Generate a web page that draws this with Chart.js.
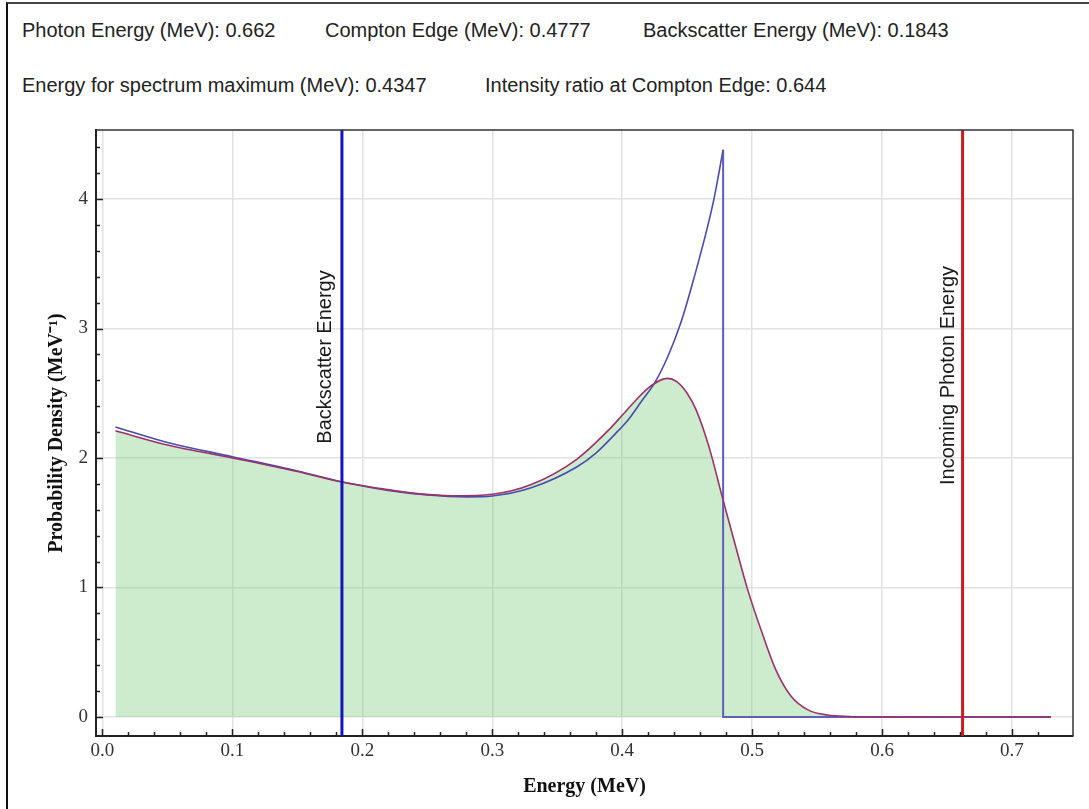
<!DOCTYPE html>
<html>
<head>
<meta charset="utf-8">
<title>Compton spectrum</title>
<script src="https://cdn.jsdelivr.net/npm/chart.js@4.4.1/dist/chart.umd.min.js"></script>
<style>
  html, body { margin: 0; padding: 0; background: #fff; }
  body { width: 1089px; height: 809px; position: relative; overflow: hidden;
         font-family: "Liberation Sans", Arial, sans-serif; }
  #panel { position: absolute; left: 6px; top: 2px; width: 1100px; height: 830px;
           border-left: 2px solid #111; border-top: 2px solid #444; }
  .info  { position: absolute; font-size: 20px; line-height: 20px; color: #222; white-space: nowrap; }
  #chart { position: absolute; left: 0; top: 0; }
</style>
</head>
<body>
<div id="panel"></div>
<div class="info" style="left:22px;top:20px">Photon Energy (MeV): 0.662</div>
<div class="info" style="left:325px;top:20px">Compton Edge (MeV): 0.4777</div>
<div class="info" style="left:643px;top:20px">Backscatter Energy (MeV): 0.1843</div>
<div class="info" style="left:22px;top:75px">Energy for spectrum maximum (MeV): 0.4347</div>
<div class="info" style="left:485px;top:75px">Intensity ratio at Compton Edge: 0.644</div>
<canvas id="chart" width="1089" height="809"></canvas>
<script>
"use strict";

const $ = id => document.getElementById(id);

// ── Axis ranges + ticks
const xMin = -0.005, xMax = 0.747;
const yMin = -0.147, yMax = 4.533;
const xTicks      = [0.0, 0.1, 0.2, 0.3, 0.4, 0.5, 0.6, 0.7];
const xTickLabels = ["0.0", "0.1", "0.2", "0.3", "0.4", "0.5", "0.6", "0.7"];
const yTicks      = [0, 1, 2, 3, 4];
const yTickLabels = ["0", "1", "2", "3", "4"];

// ── Marker energies (MeV)
const backscatterE = 0.1843;
const photonE      = 0.662;

// ── Klein-Nishina spectrum (blue)
const knX = [0.01, 0.05, 0.10, 0.15, 0.185, 0.22, 0.25, 0.28, 0.30, 0.33, 0.365, 0.38, 0.395, 0.405, 0.415, 0.425, 0.435, 0.445, 0.455, 0.47, 0.4777];
const knY = [2.24, 2.12, 2.01, 1.90, 1.815, 1.75, 1.715, 1.70, 1.707, 1.77, 1.93, 2.04, 2.19, 2.30, 2.44, 2.58, 2.78, 3.04, 3.38, 3.97, 4.38];

// ── Compton edge drop + zero tail (blue)
const edgeX = [0.4777, 0.4777, 0.73];
const edgeY = [4.38, 0, 0];

// ── Detector-smeared spectrum (red, filled)
const smX = [0.01, 0.05, 0.10, 0.15, 0.185, 0.21, 0.24, 0.27, 0.30, 0.33, 0.365, 0.39, 0.40, 0.41, 0.42, 0.4347, 0.442, 0.45, 0.457, 0.467, 0.477, 0.487, 0.497, 0.508, 0.518, 0.53, 0.543, 0.558, 0.575, 0.60, 0.65, 0.73];
const smY = [2.21, 2.10, 2.00, 1.895, 1.812, 1.77, 1.727, 1.708, 1.72, 1.795, 1.99, 2.22, 2.33, 2.44, 2.54, 2.615, 2.59, 2.50, 2.37, 2.08, 1.70, 1.33, 0.97, 0.64, 0.37, 0.16, 0.055, 0.015, 0.004, 0.001, 0, 0];

const pts = (xs, ys) => xs.map((x, i) => ({ x, y: ys[i] }));

// ── Fonts
const SERIF = "'Liberation Serif', 'Times New Roman', serif";
const SANS  = "'Liberation Sans', Arial, sans-serif";

// ── Frame, inward ticks, line labels
const framePlugin = {
  id: "frame",
  afterDraw(chart) {
    const { ctx, chartArea: a, scales: { x, y } } = chart;
    ctx.save();

    // top + right edge of frame
    ctx.strokeStyle = "#333";
    ctx.lineWidth = 1.5;
    ctx.beginPath();
    ctx.moveTo(a.left, a.top); ctx.lineTo(a.right, a.top); ctx.lineTo(a.right, a.bottom);
    ctx.stroke();

    // inward ticks
    ctx.strokeStyle = "#222";
    ctx.lineWidth = 1.5;
    ctx.beginPath();
    for (let i = 0; i <= 36; i++) {
      const px = Math.round(x.getPixelForValue(i * 0.02)) + 0.5;
      const len = i % 5 === 0 ? 7 : 4;
      ctx.moveTo(px, a.bottom); ctx.lineTo(px, a.bottom - len);
    }
    for (let i = 0; i <= 22; i++) {
      const py = Math.round(y.getPixelForValue(i * 0.2)) + 0.5;
      const len = i % 5 === 0 ? 7 : 4;
      ctx.moveTo(a.left, py); ctx.lineTo(a.left + len, py);
    }
    ctx.stroke();

    // rotated labels beside the marker lines
    ctx.fillStyle = "#1a1a1a";
    ctx.font = "20px " + SANS;
    ctx.textAlign = "center";
    ctx.textBaseline = "alphabetic";
    const vLabel = (text, px, py) => {
      ctx.save(); ctx.translate(px, py); ctx.rotate(-Math.PI / 2);
      ctx.fillText(text, 0, 0); ctx.restore();
    };
    vLabel("Backscatter Energy",     x.getPixelForValue(backscatterE) - 11, y.getPixelForValue(2.78));
    vLabel("Incoming Photon Energy", x.getPixelForValue(photonE) - 9,       y.getPixelForValue(2.637));

    ctx.restore();
  }
};

new Chart($("chart").getContext("2d"), {
  type: "line",
  data: { datasets: [
    { data: pts([backscatterE, backscatterE], [yMin, yMax]), borderColor: "rgb(20,20,190)", borderWidth: 3, order: 0 },
    { data: pts([photonE, photonE], [yMin, yMax]),           borderColor: "rgb(200,30,35)", borderWidth: 3, order: 0 },
    { data: pts(smX, smY), borderColor: "rgb(155,50,105)", borderWidth: 1.6, cubicInterpolationMode: "monotone",
      fill: "origin", backgroundColor: "rgba(130,205,130,0.4)", order: 1 },
    { data: pts(knX, knY),     borderColor: "rgb(75,75,175)", borderWidth: 1.6, cubicInterpolationMode: "monotone", order: 2 },
    { data: pts(edgeX, edgeY), borderColor: "rgb(95,95,185)", borderWidth: 2, order: 2 },
  ]},
  options: {
    responsive: false,
    animation: false,
    events: [],
    layout: { padding: { left: 0, top: 130, right: 16, bottom: 0 } },
    elements: { point: { radius: 0 }, line: { tension: 0 } },
    plugins: { legend: { display: false }, tooltip: { enabled: false }, filler: { drawTime: "beforeDatasetsDraw" } },
    scales: {
      x: {
        type: "linear", min: xMin, max: xMax,
        afterFit: s => { s.height = 73; },
        afterBuildTicks: s => { s.ticks = xTicks.map(v => ({ value: v })); },
        ticks: { callback: (v, i) => xTickLabels[i], color: "#333", padding: 4, maxRotation: 0, autoSkip: false,
                 font: { family: SERIF, size: 19 } },
        grid: { color: "#e2e2e2", lineWidth: 1.5, drawTicks: false },
        border: { display: true, color: "#222", width: 2 },
        title: { display: true, text: "Energy (MeV)", color: "#111", padding: { top: 0, bottom: 10 },
                 font: { family: SERIF, size: 20, weight: "bold" } },
      },
      y: {
        type: "linear", min: yMin, max: yMax,
        afterFit: s => { s.width = 96; },
        afterBuildTicks: s => { s.ticks = yTicks.map(v => ({ value: v })); },
        ticks: { callback: (v, i) => yTickLabels[i], color: "#333", padding: 8, autoSkip: false,
                 font: { family: SERIF, size: 19 } },
        grid: { color: "#e2e2e2", lineWidth: 1.5, drawTicks: false },
        border: { display: true, color: "#222", width: 2 },
        title: { display: true, text: "Probability Density (MeV⁻¹)", color: "#111", padding: { top: 45, bottom: 0 },
                 font: { family: SERIF, size: 20, weight: "bold" } },
      },
    },
  },
  plugins: [framePlugin],
});
</script>
</body>
</html>
